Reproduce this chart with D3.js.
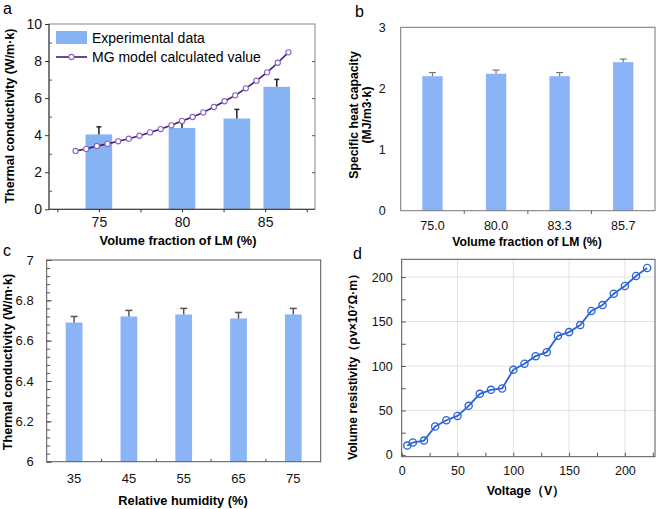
<!DOCTYPE html>
<html>
<head>
<meta charset="utf-8">
<script src="https://cdn.jsdelivr.net/npm/d3@7"></script>
<style>
  body { margin: 0; background: #fff; }
  svg { display: block; font-family: "Liberation Sans", Arial, sans-serif; }
  .tick text { fill: #111; }
</style>
</head>
<body>
<svg id="chart" width="661" height="509"></svg>
<script>
// ---------- Panel a data ----------
const aCategories = [75, 80, 83.3, 85.7];
const aValues = [4.04, 4.39, 4.90, 6.61];
const aErrors = [0.41, 0.30, 0.49, 0.40];
const aModelX = [73.6, 74.24, 74.88, 75.52, 76.16, 76.8, 77.44, 78.08, 78.72, 79.36, 80.0,
                 80.64, 81.28, 81.92, 82.56, 83.2, 83.84, 84.48, 85.12, 85.76, 86.4];
const aModelY = [3.15, 3.26, 3.42, 3.53, 3.67, 3.81, 3.97, 4.15, 4.33, 4.53, 4.77,
                 4.98, 5.23, 5.52, 5.83, 6.15, 6.53, 6.94, 7.39, 7.91, 8.47];
const aXTickLabels = [75, 80, 85];
const aXMinorTicks = [72.5, 75, 77.5, 80, 82.5, 85, 87.5];
const aYTickLabels = [0, 2, 4, 6, 8, 10];
const aYMinorTicks = [1, 3, 5, 7, 9];

// ---------- Panel b data ----------
const bCategories = ["75.0", "80.0", "83.3", "85.7"];
const bValues = [2.20, 2.24, 2.20, 2.43];
const bErrors = [0.06, 0.06, 0.06, 0.05];
const bYTickLabels = [0, 1, 2, 3];

// ---------- Panel c data ----------
const cCategories = ["35", "45", "55", "65", "75"];
const cValues = [6.69, 6.72, 6.73, 6.71, 6.73];
const cErrors = [0.03, 0.03, 0.03, 0.03, 0.03];
const cYTickLabels = [6, 6.2, 6.4, 6.6, 6.8, 7];

// ---------- Panel d data ----------
const dVoltage = [5, 10, 20, 30, 40, 50, 60, 70, 80, 90, 100, 110, 120, 130, 140, 150, 160, 170, 180, 190, 200, 210, 220];
const dResistivity = [10.5, 13.9, 16.1, 31.9, 39.0, 43.9, 55.2, 68.7, 73.2, 74.7, 95.7, 102.5, 111.1, 115.6, 134.0, 138.1, 146.0, 161.8, 168.5, 181.3, 190.0, 201.2, 210.2];
const dXTickLabels = [0, 50, 100, 150, 200];
const dYTickLabels = [0, 50, 100, 150, 200];
const dMinorTicks = [25, 75, 125, 175, 225];

const barColor = "#8ab4f5";
const svg = d3.select("#chart");

function frame(g, x0, y0, x1, y1, col) {
  g.append("rect").attr("x", x0).attr("y", y0).attr("width", x1 - x0).attr("height", y1 - y0)
    .attr("fill", "none").attr("stroke", col || "#666").attr("stroke-width", 1);
}
function cleanAxis(sel) { sel.select(".domain").remove(); }

// =================== Panel a ===================
{
  const g = svg.append("g");
  const x = d3.scaleLinear().domain([72, 88]).range([49, 315]);
  const y = d3.scaleLinear().domain([0, 10]).range([209.3, 24]);

  const bw = x(72 + 1.6) - x(72);
  g.selectAll("rect.bar").data(aCategories).join("rect")
    .attr("x", (d) => x(d) - bw / 2).attr("width", bw)
    .attr("y", (d, i) => y(aValues[i])).attr("height", (d, i) => y(0) - y(aValues[i]))
    .attr("fill", "#86b3f3");
  aCategories.forEach((c, i) => {
    const cx = x(c), y0 = y(aValues[i]), y1 = y(aValues[i] + aErrors[i]);
    g.append("line").attr("x1", cx).attr("x2", cx).attr("y1", y0).attr("y2", y1).attr("stroke", "#222").attr("stroke-width", 1.5);
    g.append("line").attr("x1", cx - 2.5).attr("x2", cx + 2.5).attr("y1", y1).attr("y2", y1).attr("stroke", "#222").attr("stroke-width", 1.5);
  });

  const pts = aModelX.map((v, i) => [v, aModelY[i]]);
  g.append("path").datum(pts)
    .attr("d", d3.line().x((d) => x(d[0])).y((d) => y(d[1])))
    .attr("fill", "none").attr("stroke", "#3e1f63").attr("stroke-width", 1.6);
  g.selectAll("circle.mg").data(pts).join("circle")
    .attr("cx", (d) => x(d[0])).attr("cy", (d) => y(d[1])).attr("r", 2.6)
    .attr("fill", "#fff").attr("stroke", "#8a62c6").attr("stroke-width", 1.1);

  frame(g, 49, 24, 315, 209.3, "#888");
  g.append("line").attr("x1", 49).attr("x2", 49).attr("y1", 24).attr("y2", 209.3).attr("stroke", "#333");
  g.append("line").attr("x1", 49).attr("x2", 315).attr("y1", 209.3).attr("y2", 209.3).attr("stroke", "#333");

  g.append("g").attr("transform", "translate(49,0)")
    .call(d3.axisLeft(y).tickValues(aYTickLabels).tickSize(4).tickPadding(3).tickFormat(d3.format("d")))
    .call(cleanAxis).call((s) => s.selectAll("text").attr("font-size", 14))
    .call((s) => s.selectAll("line").attr("stroke", "#333"));
  g.append("g").attr("transform", "translate(49,0)")
    .call(d3.axisRight(y).tickValues(aYMinorTicks).tickSize(3).tickFormat(""))
    .call(cleanAxis).call((s) => s.selectAll("line").attr("stroke", "#555"));
  g.append("g").attr("transform", "translate(315,0)")
    .call(d3.axisLeft(y).tickValues([2, 4, 6, 8]).tickSize(3).tickFormat(""))
    .call(cleanAxis).call((s) => s.selectAll("line").attr("stroke", "#555"));
  g.append("g").attr("transform", "translate(0,209.3)")
    .call(d3.axisBottom(x).tickValues(aXMinorTicks).tickSize(3).tickFormat(""))
    .call(cleanAxis).call((s) => s.selectAll("line").attr("stroke", "#333"));
  g.append("g").attr("transform", "translate(0,209.3)")
    .call(d3.axisBottom(x).tickValues(aXTickLabels).tickSize(0).tickPadding(8).tickFormat(d3.format("d")))
    .call(cleanAxis).call((s) => s.selectAll("text").attr("font-size", 14));

  g.append("rect").attr("x", 56).attr("y", 31).attr("width", 31).attr("height", 13).attr("fill", "#86b3f3");
  g.append("text").attr("x", 92).attr("y", 43).attr("font-size", 14).text("Experimental data");
  g.append("line").attr("x1", 56).attr("x2", 87).attr("y1", 57).attr("y2", 57).attr("stroke", "#3e1f63").attr("stroke-width", 1.6);
  g.append("circle").attr("cx", 71.5).attr("cy", 57).attr("r", 2.6).attr("fill", "#fff").attr("stroke", "#8a62c6").attr("stroke-width", 1.1);
  g.append("text").attr("x", 92).attr("y", 62).attr("font-size", 14).text("MG model calculated value");

  g.append("text").attr("x", 178).attr("y", 245).attr("text-anchor", "middle")
    .attr("font-size", 12.8).attr("font-weight", "bold").text("Volume fraction of LM (%)");
  g.append("text").attr("transform", "translate(14,116) rotate(-90)").attr("text-anchor", "middle")
    .attr("font-size", 12.5).attr("font-weight", "bold").text("Thermal conductivity (W/m·k)");
  g.append("text").attr("x", 3).attr("y", 14).attr("font-size", 16).text("a");
}

// =================== Panel b ===================
{
  const g = svg.append("g");
  const x = d3.scaleBand().domain(bCategories).range([400.7, 655]);
  const y = d3.scaleLinear().domain([0, 3]).range([210.7, 27.3]);
  const bw = x.bandwidth() * 0.32;

  g.selectAll("rect.bar").data(bCategories).join("rect")
    .attr("x", (d) => x(d) + x.bandwidth() / 2 - bw / 2).attr("width", bw)
    .attr("y", (d, i) => y(bValues[i])).attr("height", (d, i) => y(0) - y(bValues[i]))
    .attr("fill", barColor);
  bCategories.forEach((c, i) => {
    const cx = x(c) + x.bandwidth() / 2, y0 = y(bValues[i]), y1 = y(bValues[i] + bErrors[i]);
    g.append("line").attr("x1", cx).attr("x2", cx).attr("y1", y0).attr("y2", y1).attr("stroke", "#777").attr("stroke-width", 1.2);
    g.append("line").attr("x1", cx - 3.5).attr("x2", cx + 3.5).attr("y1", y1).attr("y2", y1).attr("stroke", "#777").attr("stroke-width", 1.2);
  });

  frame(g, 400.7, 27.3, 655, 210.7, "#777");
  g.append("g").attr("transform", "translate(400.7,0)")
    .call(d3.axisLeft(y).tickValues(bYTickLabels).tickSize(0).tickPadding(15).tickFormat(d3.format("d")))
    .call(cleanAxis).call((s) => s.selectAll("text").attr("font-size", 12.5));
  const bounds = bCategories.slice(1).map((c) => x(c));
  g.selectAll("line.bt").data(bounds).join("line")
    .attr("x1", (d) => d).attr("x2", (d) => d).attr("y1", 210.7).attr("y2", 214).attr("stroke", "#666");
  g.append("g").attr("transform", "translate(0,210.7)")
    .call(d3.axisBottom(x).tickSize(0).tickPadding(10))
    .call(cleanAxis).call((s) => s.selectAll("text").attr("font-size", 12.5));

  g.append("text").attr("x", 527).attr("y", 246).attr("text-anchor", "middle")
    .attr("font-size", 12.2).attr("font-weight", "bold").text("Volume fraction of LM (%)");
  g.append("text").attr("transform", "translate(358,115) rotate(-90)").attr("text-anchor", "middle")
    .attr("font-size", 12.2).attr("font-weight", "bold").text("Specific heat capacity");
  g.append("text").attr("transform", "translate(371,115) rotate(-90)").attr("text-anchor", "middle")
    .attr("font-size", 12.2).attr("font-weight", "bold").text("(MJ/m3·k)");
  g.append("text").attr("x", 355).attr("y", 17).attr("font-size", 16).text("b");
}

// =================== Panel c ===================
{
  const g = svg.append("g");
  const x = d3.scaleBand().domain(cCategories).range([46.7, 320.7]);
  const y = d3.scaleLinear().domain([6, 7]).range([461.7, 260]);
  const bw = x.bandwidth() * 0.305;

  g.selectAll("rect.bar").data(cCategories).join("rect")
    .attr("x", (d) => x(d) + x.bandwidth() / 2 - bw / 2).attr("width", bw)
    .attr("y", (d, i) => y(cValues[i])).attr("height", (d, i) => y(6) - y(cValues[i]))
    .attr("fill", barColor);
  cCategories.forEach((c, i) => {
    const cx = x(c) + x.bandwidth() / 2, y0 = y(cValues[i]), y1 = y(cValues[i] + cErrors[i]);
    g.append("line").attr("x1", cx).attr("x2", cx).attr("y1", y0).attr("y2", y1).attr("stroke", "#555").attr("stroke-width", 1.5);
    g.append("line").attr("x1", cx - 3.5).attr("x2", cx + 3.5).attr("y1", y1).attr("y2", y1).attr("stroke", "#555").attr("stroke-width", 1.5);
  });

  frame(g, 46.7, 260, 320.7, 461.7, "#555");
  const minor = d3.range(0, 26).map((k) => 6 + k * 0.04);
  g.append("g").attr("transform", "translate(46.7,0)")
    .call(d3.axisRight(y).tickValues(minor).tickSize(3.5).tickFormat(""))
    .call(cleanAxis).call((s) => s.selectAll("line").attr("stroke", "#555"));
  g.append("g").attr("transform", "translate(46.7,0)")
    .call(d3.axisRight(y).tickValues(cYTickLabels).tickSize(5).tickFormat(""))
    .call(cleanAxis).call((s) => s.selectAll("line").attr("stroke", "#555"));
  g.append("g").attr("transform", "translate(46.7,0)")
    .call(d3.axisLeft(y).tickValues(cYTickLabels).tickSize(0).tickPadding(13).tickFormat(d3.format("~g")))
    .call(cleanAxis).call((s) => s.selectAll("text").attr("font-size", 13));
  const bounds = cCategories.slice(1).map((c) => x(c));
  g.selectAll("line.bt").data(bounds).join("line")
    .attr("x1", (d) => d).attr("x2", (d) => d).attr("y1", 458.7).attr("y2", 461.7).attr("stroke", "#555");
  g.append("g").attr("transform", "translate(0,461.7)")
    .call(d3.axisBottom(x).tickSize(0).tickPadding(12))
    .call(cleanAxis).call((s) => s.selectAll("text").attr("font-size", 13));

  g.append("text").attr("x", 183).attr("y", 505).attr("text-anchor", "middle")
    .attr("font-size", 12.8).attr("font-weight", "bold").text("Relative humidity (%)");
  g.append("text").attr("transform", "translate(12,362) rotate(-90)").attr("text-anchor", "middle")
    .attr("font-size", 12.6).attr("font-weight", "bold").text("Thermal conductivity (W/m·k)");
  g.append("text").attr("x", 3).attr("y", 256).attr("font-size", 16).text("c");
}

// =================== Panel d ===================
{
  const g = svg.append("g");
  const x = d3.scaleLinear().domain([0, 227]).range([401.7, 655]);
  const y = d3.scaleLinear().domain([-2, 220]).range([456.7, 259.3]);

  g.selectAll("line.gx").data(dXTickLabels.slice(1)).join("line")
    .attr("x1", (d) => x(d)).attr("x2", (d) => x(d)).attr("y1", 259.3).attr("y2", 456.7)
    .attr("stroke", "#e2e2e2");
  g.selectAll("line.gy").data(dYTickLabels.slice(1)).join("line")
    .attr("x1", 401.7).attr("x2", 655).attr("y1", (d) => y(d)).attr("y2", (d) => y(d))
    .attr("stroke", "#e2e2e2");

  frame(g, 401.7, 259.3, 655, 456.7, "#555");
  g.append("g").attr("transform", "translate(401.7,0)")
    .call(d3.axisRight(y).tickValues(dYTickLabels.concat(dMinorTicks.filter((v) => v < 220))).tickSize(4).tickFormat(""))
    .call(cleanAxis).call((s) => s.selectAll("line").attr("stroke", "#555"));
  g.append("g").attr("transform", "translate(401.7,0)")
    .call(d3.axisLeft(y).tickValues(dYTickLabels).tickSize(0).tickPadding(9).tickFormat(d3.format("d")))
    .call(cleanAxis).call((s) => s.selectAll("text").attr("font-size", 12.5));
  g.append("g").attr("transform", "translate(0,456.7)")
    .call(d3.axisTop(x).tickValues(dXTickLabels.concat(dMinorTicks.filter((v) => v < 227))).tickSize(4).tickFormat(""))
    .call(cleanAxis).call((s) => s.selectAll("line").attr("stroke", "#555"));
  g.append("g").attr("transform", "translate(0,456.7)")
    .call(d3.axisBottom(x).tickValues(dXTickLabels).tickSize(0).tickPadding(9).tickFormat(d3.format("d")))
    .call(cleanAxis).call((s) => s.selectAll("text").attr("font-size", 12.5));

  const pts = dVoltage.map((v, i) => [v, dResistivity[i]]);
  g.append("path").datum(pts)
    .attr("d", d3.line().x((d) => x(d[0])).y((d) => y(d[1])))
    .attr("fill", "none").attr("stroke", "#2b63d9").attr("stroke-width", 1.8);
  g.selectAll("circle.pt").data(pts).join("circle")
    .attr("cx", (d) => x(d[0])).attr("cy", (d) => y(d[1])).attr("r", 3.6)
    .attr("fill", "none").attr("stroke", "#2b63d9").attr("stroke-width", 1.3);

  g.append("text").attr("x", 526).attr("y", 495).attr("text-anchor", "middle")
    .attr("font-size", 12.5).attr("font-weight", "bold").text("Voltage（V）");
  g.append("text").attr("transform", "translate(357,364) rotate(-90)").attr("text-anchor", "middle")
    .attr("font-size", 12.2).attr("font-weight", "bold").text("Volume resistivity（ρv×10⁷Ω·m）");
  g.append("text").attr("x", 353).attr("y", 259).attr("font-size", 16).text("d");
}
</script>
</body>
</html>
